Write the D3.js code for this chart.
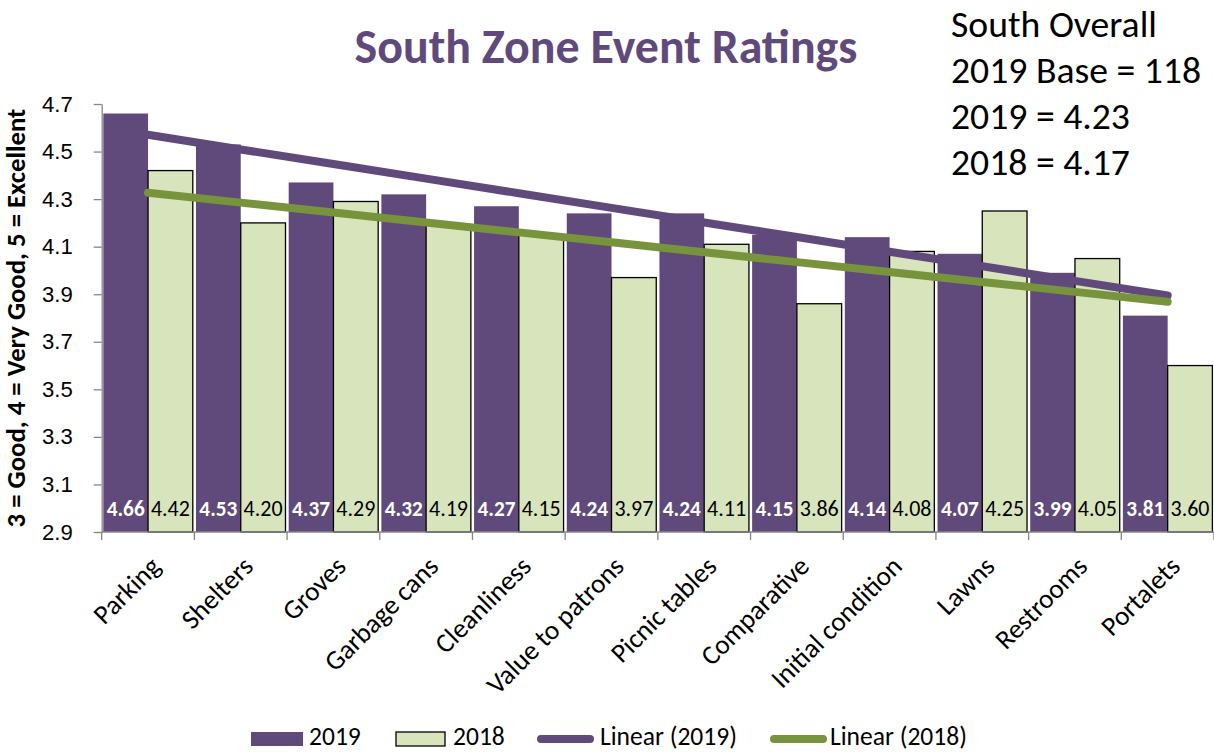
<!DOCTYPE html>
<html><head><meta charset="utf-8">
<script src="https://cdn.jsdelivr.net/npm/d3@7"></script>
<style>
body{margin:0;background:#fff;}
svg{display:block;font-family:Carlito, Calibri, Lato, "Open Sans", sans-serif;}
</style></head>
<body><svg id="chart" width="1214" height="752"></svg>
<script>
const categories = ["Parking","Shelters","Groves","Garbage cans","Cleanliness","Value to patrons","Picnic tables","Comparative","Initial condition","Lawns","Restrooms","Portalets"];
const values2019 = [4.66,4.53,4.37,4.32,4.27,4.24,4.24,4.15,4.14,4.07,3.99,3.81];
const values2018 = [4.42,4.20,4.29,4.19,4.15,3.97,4.11,3.86,4.08,4.25,4.05,3.60];
const yTicks = [2.9,3.1,3.3,3.5,3.7,3.9,4.1,4.3,4.5,4.7];
const seriesNames = ["2019","2018","Linear (2019)","Linear (2018)"];
const titleText = "South Zone Event Ratings";
const yTitle = "3 = Good, 4 = Very Good, 5 = Excellent";
const noteLines = ["South Overall","2019 Base = 118","2019 = 4.23","2018 = 4.17"];

const purple = "#5f4a7b", green = "#d8e4bc", greenLine = "#77933c", purpleLine = "#604a7b";
const svg = d3.select("#chart");
const m = {left:101.7, right:1214, top:104, bottom:532};

// font size that makes a sample text reach a target width
function fitSize(sample, target, weight){
  const t = svg.append("text").attr("font-size",100).attr("font-weight",weight||"normal").text(sample);
  const w = t.node().getComputedTextLength(); t.remove();
  return 100*target/w;
}
const fsTitle = fitSize(titleText, 503, "bold");
const fsNote = fitSize("South Overall", 206);
const fsLab19 = fitSize("4.66", 38, "bold");
const fsLab18 = fitSize("4.42", 39);
const fsTick = fitSize("4.7", 28);
const fsYTitle = fitSize(yTitle, 419, "bold");
const fsCat = fitSize("Initial condition", 172);
const fsLeg = fitSize("Linear (2019)", 137);

const x = d3.scaleBand().domain(categories).range([m.left, m.right]).padding(0);
const y = d3.scaleLinear().domain([2.9,4.7]).range([m.bottom, m.top]);
const bw = x.bandwidth();
const gap = 1.6;
const barW = (bw - 2*gap)/2;

// title
svg.append("text").attr("x",606).attr("y",63).attr("text-anchor","middle")
  .attr("font-size",fsTitle).attr("font-weight","bold").attr("fill","#604a7b").text(titleText);

// note
svg.selectAll("text.note").data(noteLines).join("text").attr("class","note")
  .attr("x",951).attr("y",(d,i)=>37+i*46).attr("font-size",fsNote).attr("fill","#000").text(d=>d);

// bars 2019
svg.append("g").selectAll("rect").data(values2019).join("rect")
  .attr("x",(d,i)=>x(categories[i])+gap).attr("width",barW)
  .attr("y",d=>y(d)).attr("height",d=>y(2.9)-y(d)).attr("fill",purple);
// bars 2018
svg.append("g").selectAll("rect").data(values2018).join("rect")
  .attr("x",(d,i)=>x(categories[i])+gap+barW).attr("width",barW)
  .attr("y",d=>y(d)).attr("height",d=>y(2.9)-y(d)).attr("fill",green)
  .attr("stroke","#000").attr("stroke-width",1.3);

// labels
svg.append("g").selectAll("text").data(values2019).join("text")
  .attr("x",(d,i)=>x(categories[i])+gap+barW/2).attr("y",516)
  .attr("text-anchor","middle").attr("font-size",fsLab19).attr("font-weight","bold").attr("fill","#fff")
  .text(d=>d.toFixed(2));
svg.append("g").selectAll("text").data(values2018).join("text")
  .attr("x",(d,i)=>x(categories[i])+gap+barW*1.5).attr("y",516)
  .attr("text-anchor","middle").attr("font-size",fsLab18).attr("fill","#000")
  .text(d=>d.toFixed(2));

// trend lines (linear regression over category index)
function regress(vals){
  const xs=vals.map((_,i)=>i+1);
  const mx=d3.mean(xs), my=d3.mean(vals);
  let sxy=0,sxx=0; xs.forEach((xi,i)=>{sxy+=(xi-mx)*(vals[i]-my);sxx+=(xi-mx)**2;});
  const b=sxy/sxx, a=my-b*mx;
  return xs.map(xi=>a+b*xi);
}
const line = d3.line().x((d,i)=>x(categories[i])+bw/2).y(d=>y(d));
svg.append("path").datum(regress(values2019)).attr("d",line).attr("fill","none")
  .attr("stroke",purpleLine).attr("stroke-width",8).attr("stroke-linecap","round");
svg.append("path").datum(regress(values2018)).attr("d",line).attr("fill","none")
  .attr("stroke",greenLine).attr("stroke-width",8).attr("stroke-linecap","round");

// axes
const yAxis = svg.append("g").attr("transform",`translate(${m.left},0)`)
  .call(d3.axisLeft(y).tickValues(yTicks).tickFormat(d3.format(".1f")).tickSize(8).tickSizeOuter(0));
yAxis.select(".domain").attr("stroke","#868686").attr("stroke-width",1.3);
yAxis.selectAll(".tick line").attr("stroke","#868686").attr("stroke-width",1.3);
yAxis.selectAll("text").attr("font-size",fsTick).attr("fill","#000").attr("font-family",null).attr("x",-29);

const xg = svg.append("g").attr("transform",`translate(0,${m.bottom})`);
xg.append("line").attr("x1",m.left).attr("x2",m.right).attr("stroke","#868686").attr("stroke-width",1.3);
xg.selectAll("line.tk").data(categories.concat(["end"])).join("line").attr("class","tk")
  .attr("x1",(d,i)=>m.left+i*bw).attr("x2",(d,i)=>m.left+i*bw).attr("y1",0).attr("y2",8)
  .attr("stroke","#868686").attr("stroke-width",1.3);
xg.selectAll("text").data(categories).join("text")
  .attr("transform",d=>`translate(${x(d)+bw/2+14},${36}) rotate(-45)`)
  .attr("text-anchor","end").attr("font-size",fsCat).attr("fill","#000").text(d=>d);

// y title
svg.append("text").attr("transform","translate(25,318) rotate(-90)").attr("text-anchor","middle")
  .attr("font-size",fsYTitle).attr("font-weight","bold").attr("fill","#000").text(yTitle);

// legend
const lg = svg.append("g");
const ly = 739, lb = 745;
lg.append("rect").attr("x",251).attr("y",ly-7).attr("width",52).attr("height",14).attr("fill",purple);
lg.append("text").attr("x",309).attr("y",lb).attr("font-size",fsLeg).text(seriesNames[0]);
lg.append("rect").attr("x",396).attr("y",ly-7).attr("width",49).attr("height",14).attr("fill",green).attr("stroke","#000").attr("stroke-width",1.3);
lg.append("text").attr("x",453).attr("y",lb).attr("font-size",fsLeg).text(seriesNames[1]);
lg.append("line").attr("x1",541).attr("x2",590).attr("y1",ly).attr("y2",ly).attr("stroke",purpleLine).attr("stroke-width",8).attr("stroke-linecap","round");
lg.append("text").attr("x",600).attr("y",lb).attr("font-size",fsLeg).text(seriesNames[2]);
lg.append("line").attr("x1",774).attr("x2",823).attr("y1",ly).attr("y2",ly).attr("stroke",greenLine).attr("stroke-width",8).attr("stroke-linecap","round");
lg.append("text").attr("x",830).attr("y",lb).attr("font-size",fsLeg).text(seriesNames[3]);
</script></body></html>
